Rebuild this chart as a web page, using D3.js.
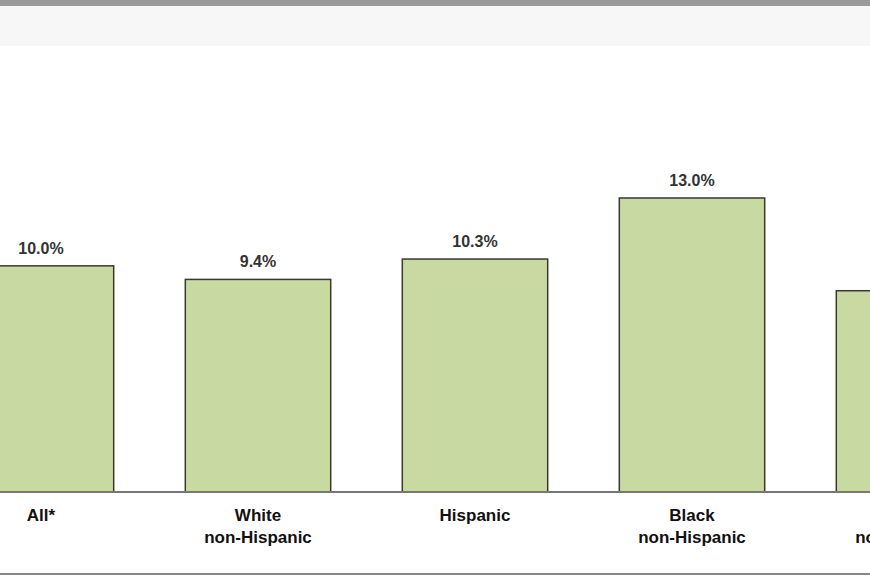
<!DOCTYPE html>
<html><head><meta charset="utf-8">
<script src="https://cdn.jsdelivr.net/npm/d3@7"></script>
<style>body{margin:0;background:#fff}svg{display:block}</style>
</head><body>
<svg id="chart" width="870" height="580"></svg>
<script>
const groups = ['All*', 'White\nnon-Hispanic', 'Hispanic', 'Black\nnon-Hispanic', 'Asian\nnon-Hispanic'];
const rates = [10.0, 9.4, 10.3, 13.0, 8.9];
// the fifth value label lies outside the visible crop
const valueLabels = ['10.0%', '9.4%', '10.3%', '13.0%', ''];

const svg = d3.select('#chart');
const BASE = 492;

// frame lines
svg.append('rect').attr('x', 0).attr('y', 0).attr('width', 870).attr('height', 6).attr('fill', '#9a9a9a');
svg.append('rect').attr('x', 0).attr('y', 6).attr('width', 870).attr('height', 40).attr('fill', '#f7f7f7');
svg.append('line').attr('x1', 0).attr('x2', 870).attr('y1', 574).attr('y2', 574)
    .attr('stroke', '#888').attr('stroke-width', 2);

const xScale = d3.scaleBand()
    .domain(groups)
    .range([-67.5, 1017.5])
    .paddingInner(0.33)
    .paddingOuter(0.165);

const yScale = d3.scaleLinear()
    .domain([0, 13])
    .range([BASE, 198]);

svg.selectAll('rect.bar')
    .data(groups)
    .enter()
    .append('rect')
    .attr('class', 'bar')
    .attr('x', (d) => xScale(d))
    .attr('y', (d, i) => yScale(rates[i]))
    .attr('width', xScale.bandwidth())
    .attr('height', (d, i) => BASE - yScale(rates[i]))
    .attr('fill', '#c8d9a2')
    .attr('stroke', '#3a3a2a')
    .attr('stroke-width', 1.5);

// baseline
svg.append('line').attr('x1', 0).attr('x2', 870).attr('y1', BASE).attr('y2', BASE)
    .attr('stroke', '#777').attr('stroke-width', 2);

// value labels
svg.selectAll('text.val')
    .data(groups)
    .enter()
    .append('text')
    .attr('class', 'val')
    .attr('x', (d) => xScale(d) + xScale.bandwidth() / 2)
    .attr('y', (d, i) => yScale(rates[i]) - 12)
    .attr('text-anchor', 'middle')
    .style('font-family', 'Liberation Sans, Arial, sans-serif')
    .style('font-size', '16px')
    .style('font-weight', 'bold')
    .attr('fill', '#333')
    .text((d, i) => valueLabels[i]);

// category labels
const cat = svg.selectAll('text.cat')
    .data(groups)
    .enter()
    .append('text')
    .attr('class', 'cat')
    .attr('text-anchor', 'middle')
    .style('font-family', 'Liberation Sans, Arial, sans-serif')
    .style('font-size', '17px')
    .style('font-weight', 'bold')
    .attr('fill', '#111');

cat.each(function(d) {
    const lines = d.split('\n');
    const cx = xScale(d) + xScale.bandwidth() / 2;
    lines.forEach((l, i) => {
        d3.select(this).append('tspan')
            .attr('x', cx)
            .attr('y', 521 + i * 22)
            .text(l);
    });
});
</script>
</body></html>
